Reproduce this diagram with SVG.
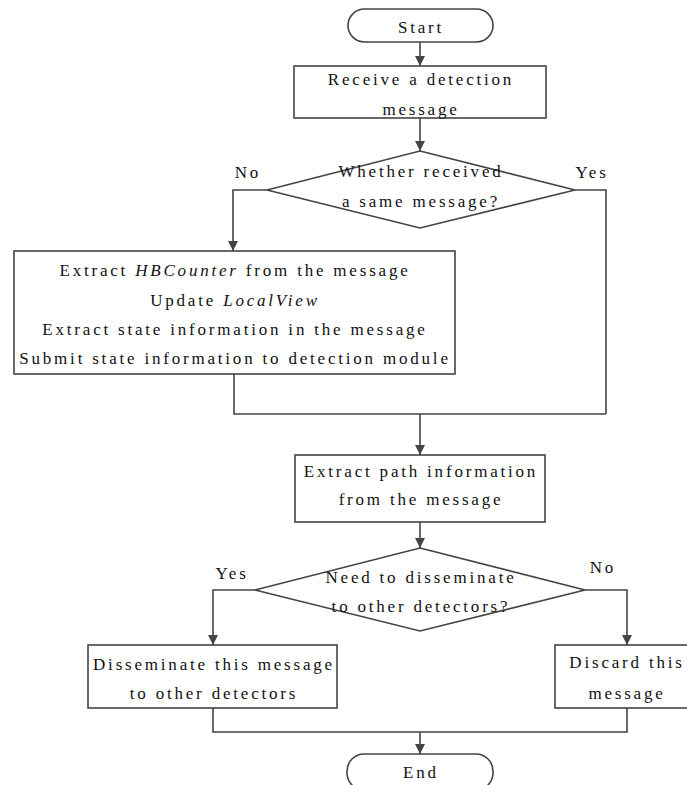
<svg xmlns="http://www.w3.org/2000/svg" width="687" height="785" viewBox="0 0 687 785">
<style>
.s{fill:#fff;stroke:#444;stroke-width:1.6}
.c{fill:none;stroke:#444;stroke-width:1.6}
text{font-family:"Liberation Serif","Times New Roman",serif;font-size:17px;fill:#111;letter-spacing:2.8px;text-anchor:middle}
.i{font-style:italic}
</style>
<defs>
<marker id="a" markerUnits="userSpaceOnUse" markerWidth="10" markerHeight="12" refX="10" refY="5" orient="auto">
<path d="M0,0 L10,5 L0,10 z" fill="#444"/>
</marker>
</defs>
<rect width="687" height="785" fill="#fff"/>
<g id="connectors">
<line class="c" x1="420" y1="42" x2="420" y2="66" marker-end="url(#a)"/>
<line class="c" x1="420" y1="118" x2="420" y2="151" marker-end="url(#a)"/>
<polyline class="c" points="267,190 233,190 233,251" marker-end="url(#a)"/>
<polyline class="c" points="575,190 606,190 606,414"/>
<polyline class="c" points="234,374 234,414 606,414"/>
<line class="c" x1="420" y1="414" x2="420" y2="455" marker-end="url(#a)"/>
<line class="c" x1="420" y1="522" x2="420" y2="548" marker-end="url(#a)"/>
<polyline class="c" points="255,590 213,590 213,645" marker-end="url(#a)"/>
<polyline class="c" points="585,590 627,590 627,645" marker-end="url(#a)"/>
<polyline class="c" points="213,708 213,732 627,732 627,708"/>
<line class="c" x1="420" y1="732" x2="420" y2="754" marker-end="url(#a)"/>
<text x="248" y="178">No</text>
<text x="592" y="178">Yes</text>
<text x="232" y="579">Yes</text>
<text x="603" y="573">No</text>
</g>
<g id="start">
<rect class="s" x="348" y="9" width="145" height="33" rx="16.5"/>
<text x="421" y="33">Start</text>
</g>
<g id="receive">
<rect class="s" x="294" y="66" width="252" height="52"/>
<text x="421" y="85">Receive a detection</text>
<text x="421" y="115">message</text>
</g>
<g id="decision1">
<polygon class="s" points="420,151 575,190 420,228 267,190"/>
<text x="421" y="177">Whether received</text>
<text x="421" y="207">a same message?</text>
</g>
<g id="process">
<rect class="s" x="14" y="251" width="441" height="123"/>
<text x="235" y="276">Extract <tspan class="i">HBCounter</tspan> from the message</text>
<text x="235" y="306">Update <tspan class="i">LocalView</tspan></text>
<text x="235" y="335">Extract state information in the message</text>
<text x="235" y="364">Submit state information to detection module</text>
</g>
<g id="path">
<rect class="s" x="295" y="455" width="250" height="67"/>
<text x="421" y="477">Extract path information</text>
<text x="421" y="505">from the message</text>
</g>
<g id="decision2">
<polygon class="s" points="420,548 585,590 420,631 255,590"/>
<text x="421" y="583">Need to disseminate</text>
<text x="421" y="612">to other detectors?</text>
</g>
<g id="disseminate">
<rect class="s" x="88" y="645" width="249" height="63"/>
<text x="214" y="670">Disseminate this message</text>
<text x="214" y="699">to other detectors</text>
</g>
<g id="discard">
<rect class="s" x="555" y="645" width="145" height="63"/>
<text x="627" y="668">Discard this</text>
<text x="627" y="699">message</text>
</g>
<g id="end">
<rect class="s" x="347" y="754" width="146" height="36" rx="17"/>
<text x="421" y="778">End</text>
</g>
</svg>
